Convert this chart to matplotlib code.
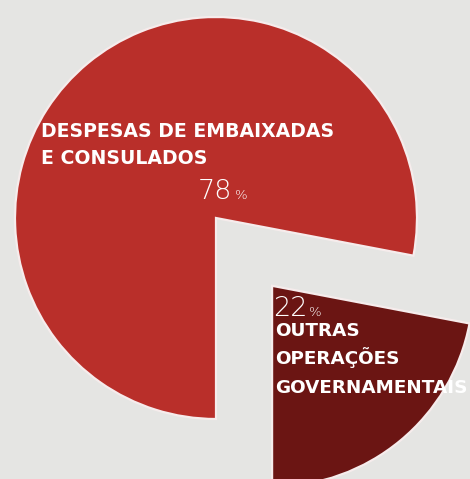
import matplotlib
matplotlib.use("Agg")
import matplotlib.pyplot as plt

# data
categories = ["OUTRAS\nOPERAÇÕES\nGOVERNAMENTAIS", "DESPESAS DE EMBAIXADAS\nE CONSULADOS"]
values = [22, 78]
colors = ["#6b1513", "#b92f2a"]

W, H = 470, 479
BG = "#e5e5e3"

fig = plt.figure(figsize=(W / 100, H / 100), dpi=100, facecolor=BG)
ax = fig.add_axes([0, 0, 1, 1])
ax.set_facecolor(BG)

def py(y):
    return H - y

center = (216, py(218))
radius = 201
explode = [88, 0]

ax.pie(values, colors=colors, startangle=-90, counterclock=True,
       center=center, radius=radius, explode=explode,
       wedgeprops=dict(edgecolor="#f6ecec", linewidth=1.6))

ax.set_xlim(0, W)
ax.set_ylim(0, H)
ax.set_aspect("equal")
ax.axis("off")

bold = dict(family="DejaVu Sans", weight="bold", color="white")
light = dict(family="DejaVu Sans", weight="light", color="white")

def label_lines(text, x, y0, step, size):
    for i, line in enumerate(text.split("\n")):
        ax.text(x, py(y0 + i * step), line, ha="left", va="baseline",
                fontsize=size, **bold)

fig.canvas.draw()
renderer = fig.canvas.get_renderer()

def pct(value, x, ybase):
    t = ax.text(x, py(ybase), f"{value}", ha="left", va="baseline", fontsize=19.5, **light)
    bb = t.get_window_extent(renderer)
    ax.text(bb.x1 + 2, py(ybase), "%", ha="left", va="baseline", fontsize=9.5, **light)

# big slice label
label_lines(categories[1], 41, 136.5, 27, 13.6)
pct(values[1], 198, 199)

# small slice label
pct(values[0], 273, 316)
label_lines(categories[0], 275, 336, 28.5, 13.2)

fig.savefig("out.png", dpi=100, facecolor=BG)
